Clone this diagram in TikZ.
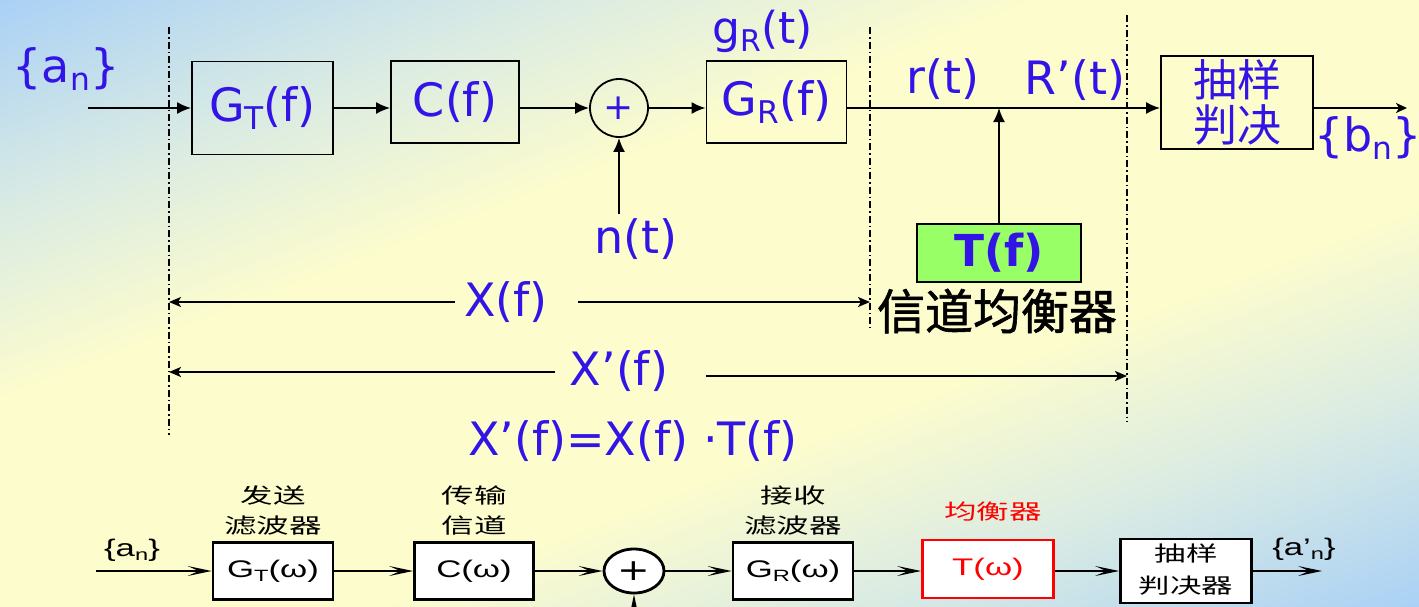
\documentclass[tikz,border=0pt]{standalone}
\usepackage{fontspec}
\setmainfont{DejaVu Sans}
\newfontfamily\cjk{Noto Sans CJK SC}
\newfontfamily\cjkb{Noto Sans CJK SC}[FakeBold=1.2]
\newfontfamily\arialf{Liberation Sans}
\usetikzlibrary{arrows.meta,shapes.geometric}
\definecolor{tblue}{RGB}{50,20,230}
\definecolor{bgblue}{RGB}{168,208,246}
\definecolor{bgmid}{RGB}{220,236,226}
\definecolor{bgyel}{RGB}{252,252,205}
\definecolor{tgreen}{RGB}{153,255,102}
\pgfdeclareverticalshading{bgsh}{100bp}{color(0bp)=(bgblue); color(17bp)=(bgblue); color(30bp)=(bgmid); color(40bp)=(bgyel); color(60bp)=(bgyel); color(70bp)=(bgmid); color(83bp)=(bgblue); color(100bp)=(bgblue)}
\newcommand\subx[1]{\raisebox{-0.35ex}{\scalebox{0.68}{#1}}}
\newcommand\sx[2]{\scalebox{#1}[1]{#2}}
\newcommand\two[2]{\begin{tabular}{@{}c@{}}#1\\#2\end{tabular}}
\tikzset{
  lbl/.style={text=tblue, font=\fontsize{46}{50}\selectfont, inner sep=0pt},
  topbox/.style={draw, line width=1.8pt, inner sep=0pt, text=tblue, font=\fontsize{46}{50}\selectfont},
  arr/.style={line width=1.8pt, -{Latex[length=14pt,width=12pt]}},
  darr/.style={line width=1.8pt, -{Stealth[length=12pt,width=10pt,inset=3pt]}},
  dashdot/.style={line width=1.2pt, dash pattern=on 7pt off 3pt on 1.5pt off 3pt},
  bbox/.style={draw, line width=2.8pt, fill=white, inner sep=0pt, minimum width=120, minimum height=57},
  barr/.style={line width=1.5pt, -{Stealth[length=24pt,width=10pt,inset=11pt]}},
  btxt/.style={font=\arialf\fontsize{24}{26}\selectfont, inner sep=0pt},
  bcjk/.style={font=\cjk\fontsize{21}{30}\selectfont, inner sep=0pt},
}
\begin{document}
\begin{tikzpicture}[x=1pt,y=-1pt]
\useasboundingbox (0,0) rectangle (1419,606);
\shade[shading=bgsh, shading angle=21] (0,0) rectangle (1419,606);

% dash-dot separators
\coordinate (d1a) at (169,27); \coordinate (d1b) at (169,435);
\coordinate (d2a) at (870,27); \coordinate (d2b) at (870,328);
\coordinate (d3a) at (1127,15); \coordinate (d3b) at (1127,422);
\draw[dashdot] (d1a) -- (d1b);
\draw[dashdot] (d2a) -- (d2b);
\draw[dashdot] (d3a) -- (d3b);

% top row
\node[topbox, minimum width=141, minimum height=93] (gt) at (262.5,108) {G\subx{T}(f)};
\node[topbox, minimum width=128, minimum height=82] (cf) at (455,102) {C(f)};
\node[draw, circle, line width=1.8pt, minimum size=58, inner sep=0pt, text=tblue, font=\fontsize{36}{36}\selectfont] (sum) at (619,108) {+};
\node[topbox, minimum width=140, minimum height=82] (gr) at (776.5,102) {G\subx{R}(f)};
\node[topbox, minimum width=152, minimum height=93, font=\cjk\fontsize{44}{45}\selectfont, align=center] (cy) at (1237,102.5) {抽样\\判决};
\node[draw, line width=1.8pt, fill=tgreen, minimum width=164, minimum height=58, inner sep=0pt, text=tblue, font=\bfseries\fontsize{44}{46}\selectfont] (tf) at (999,253) {T(f)};

\coordinate (ain) at (88,108);
\coordinate (bout) at (1407,108);
\coordinate (nt) at (619,214);
\draw[arr] (ain) -- (gt.west);
\draw[arr] (gt.east) -- (cf.west |- gt.east);
\draw[arr] (cf.east |- gt.east) -- (sum.west);
\draw[arr] (sum.east) -- (gr.west |- sum.east);
\draw[arr] (gr.east |- sum.east) -- (cy.west |- sum.east);
\draw[line width=1.8pt, -{Stealth[length=11pt,width=10pt,inset=3pt]}] (cy.east |- sum.east) -- (bout);
\draw[arr] (nt) -- (sum.south);
\draw[arr] (tf.north) -- (tf.north |- sum.east);

\node[lbl] (an) at (66,69) {\{a\subx{n}\}};
\node[lbl] (bn) at (1368,138) {\{b\subx{n}\}};
\node[lbl, font=\fontsize{44}{48}\selectfont] (grt) at (763,31) {g\subx{R}(t)};
\node[lbl] (rt) at (943,79) {r(t)};
\node[lbl] (Rt) at (1075,80) {R’(t)};
\node[lbl, anchor=north] (ntl) at (636,218) {n(t)};
\node[inner sep=0pt, font=\cjkb\fontsize{48}{50}\selectfont] (eq) at (997,311) {信道均衡器};

% X(f) spans
\node[lbl] (xf) at (506,302) {X(f)};
\coordinate (xfl) at (455,302); \coordinate (xfr) at (578,302);
\coordinate (xl) at (169,302); \coordinate (xr) at (870,302);
\draw[darr] (xfl) -- (xl);
\draw[darr] (xfr) -- (xr);
\node[lbl] (xpf) at (619,371) {X’(f)};
\coordinate (xpl) at (555,372); \coordinate (xpr) at (706,376);
\coordinate (xpL) at (169,372); \coordinate (xpR) at (1127,376);
\draw[darr] (xpl) -- (xpL);
\draw[darr] (xpr) -- (xpR);
\node[lbl] (form) at (633,441) {X’(f)=X(f) ·T(f)};

% bottom row
\node[bbox] (ga) at (273,571) {\sx{1.45}{\arialf\fontsize{24}{26}\selectfont G\subx{T}(ω)}};
\node[bbox, minimum width=119] (cb) at (474,571) {\sx{1.45}{\arialf\fontsize{24}{26}\selectfont C(ω)}};
\node[draw, ellipse, line width=2.8pt, fill=white, minimum width=60, minimum height=44, inner sep=0pt] (sumb) at (634,571) {\sx{1.3}{\fontsize{30}{30}\selectfont +}};
\node[bbox] (grb) at (793,571) {\sx{1.45}{\arialf\fontsize{24}{26}\selectfont G\subx{R}(ω)}};
\node[bbox, draw=red, text=red, minimum width=131, minimum height=58] (tb) at (988,569) {\sx{1.45}{\arialf\fontsize{24}{26}\selectfont T(ω)}};
\node[bbox, minimum width=131] (cyb) at (1186,571) {\sx{1.5}{\cjk\fontsize{21}{32}\selectfont\two{抽样}{判决器}}};

\coordinate (bin) at (96,571);
\coordinate (bend) at (1322,571);
\coordinate (bbot) at (634,640);
\draw[barr] (bin) -- (ga.west);
\draw[barr] (ga.east) -- (cb.west);
\draw[barr] (cb.east) -- (sumb.west);
\draw[barr] (sumb.east) -- (grb.west);
\draw[barr] (grb.east) -- (tb.west |- grb.east);
\draw[barr] (tb.east |- grb.east) -- (cyb.west);
\draw[barr] (cyb.east) -- (bend);
\draw[barr] (bbot) -- (sumb.south);

\node[btxt] (ban) at (132,550) {\sx{1.45}{\{a\subx{n}\}}};
\node[btxt] (bapn) at (1304,549) {\sx{1.45}{\{a’\subx{n}\}}};
\node[bcjk] (l1) at (273,512) {\sx{1.55}{\two{发送}{滤波器}}};
\node[bcjk] (l2) at (474,512) {\sx{1.55}{\two{传输}{信道}}};
\node[bcjk] (l3) at (793,512) {\sx{1.55}{\two{接收}{滤波器}}};
\node[bcjk, text=red] (l4) at (993,512) {\sx{1.55}{均衡器}};
\end{tikzpicture}
\end{document}
